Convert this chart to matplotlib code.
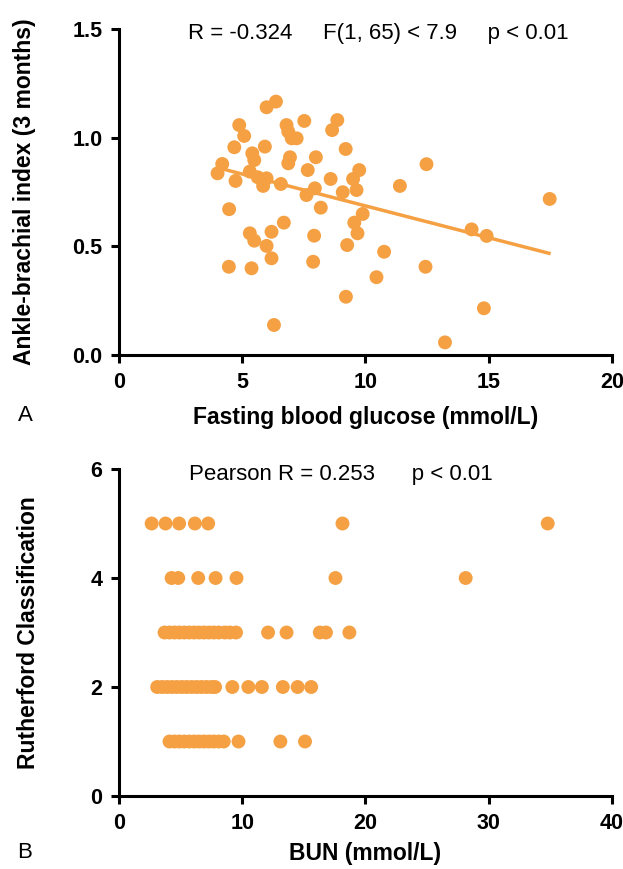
import numpy as np
import matplotlib
matplotlib.use("Agg")
import matplotlib.pyplot as plt

plt.rcParams['font.family'] = ['Liberation Sans', 'DejaVu Sans']

# colour of the dots and fit line
orange = '#F4A043'

# panel A: fasting blood glucose vs ankle-brachial index
glucose = [6.37, 5.99, 4.88, 5.08, 4.68, 5.92, 6.80, 6.87, 7.01, 7.21,
           7.52, 8.86, 8.65, 9.20, 5.41, 5.49, 6.94, 6.87, 7.99, 7.66,
           4.19, 4.00, 4.73, 5.31, 5.63, 5.99, 5.85, 6.57, 7.95, 7.61,
           8.59, 9.08, 9.75, 9.50, 9.64, 8.19, 4.47, 5.31, 5.49, 6.19,
           6.69, 5.99, 6.19, 7.92, 7.88, 9.26, 9.89, 9.55, 9.68, 4.46,
           5.38, 9.21, 6.29, 12.48, 11.40, 10.76, 14.31, 14.92, 17.48, 12.44,
           10.45, 14.81, 13.23]
abi = [1.166, 1.140, 1.058, 1.008, 0.956, 0.959, 1.058, 1.028, 0.997, 0.997,
       1.077, 1.081, 1.035, 0.948, 0.928, 0.897, 0.910, 0.882, 0.910, 0.851,
       0.879, 0.836, 0.801, 0.844, 0.818, 0.813, 0.778, 0.787, 0.767, 0.736,
       0.810, 0.749, 0.851, 0.810, 0.759, 0.678, 0.671, 0.560, 0.526, 0.567,
       0.609, 0.502, 0.445, 0.549, 0.429, 0.506, 0.649, 0.609, 0.560, 0.406,
       0.399, 0.268, 0.138, 0.878, 0.778, 0.475, 0.578, 0.548, 0.718, 0.406,
       0.358, 0.215, 0.058]
fit_x = [4.0, 17.45]
fit_y = [0.862, 0.468]

# panel B: BUN values for each Rutherford class
bun_c1 = [4.1, 4.5, 4.9, 5.3, 5.7, 6.1, 6.5, 6.9, 7.3, 7.7, 8.1, 8.5, 9.7, 13.1, 15.1]
bun_c2 = [3.1, 3.5, 3.9, 4.3, 4.7, 5.1, 5.5, 5.9, 6.3, 6.7, 7.1, 7.5, 7.8,
          9.2, 10.5, 11.6, 13.3, 14.5, 15.6]
bun_c3 = [3.7, 4.1, 4.5, 4.9, 5.3, 5.7, 6.1, 6.5, 6.9, 7.3, 7.7, 8.1, 8.6,
          9.0, 9.5, 12.1, 13.6, 16.3, 16.8, 18.7]
bun_c4 = [4.27, 4.81, 6.43, 7.84, 9.54, 17.57, 28.14]
bun_c5 = [2.65, 3.78, 4.88, 6.16, 7.24, 18.14, 34.8]
bun_groups = [bun_c1, bun_c2, bun_c3, bun_c4, bun_c5]


def style_axes(ax):
    for side in ['top', 'right']:
        ax.spines[side].set_visible(False)
    for side in ['left', 'bottom']:
        ax.spines[side].set_linewidth(2.2)
    ax.tick_params(width=2.2, length=6, labelsize=15.5, pad=6)
    for lab in ax.get_xticklabels() + ax.get_yticklabels():
        lab.set_fontweight('bold')


fig = plt.figure(figsize=(6.23, 8.69), dpi=100)

# ---- panel A ----
ax1 = fig.add_axes([0.191, 0.5915, 0.791, 0.3751])
ax1.scatter(glucose, abi, s=100, color=orange, edgecolors='none', zorder=3)
ax1.plot(fit_x, fit_y, color=orange, lw=2.5, zorder=2)
ax1.set_xlim(0, 20)
ax1.set_ylim(0, 1.5)
ax1.set_xticks([0, 5, 10, 15, 20])
ax1.set_yticks([0.0, 0.5, 1.0, 1.5])
ax1.set_yticklabels(['0.0', '0.5', '1.0', '1.5'])
style_axes(ax1)
ax1.set_xlabel('Fasting blood glucose (mmol/L)', fontsize=16.5, fontweight='bold')
ax1.set_ylabel('Ankle-brachial index (3 months)', fontsize=16.5, fontweight='bold')
ax1.xaxis.set_label_coords(0.5, -0.155)
ax1.yaxis.set_label_coords(-0.168, 0.5)
ax1.text(0.527, 0.985, 'R = -0.324     F(1, 65) < 7.9     p < 0.01',
         transform=ax1.transAxes, ha='center', va='center', fontsize=16)
fig.text(25 / 623, 1 - 415 / 869, 'A', ha='center', va='center', fontsize=16)

# ---- panel B ----
ax2 = fig.add_axes([0.191, 0.0840, 0.791, 0.3763])
for cls, xs in enumerate(bun_groups, start=1):
    ax2.scatter(xs, [cls] * len(xs), s=100, color=orange, edgecolors='none', zorder=3)
ax2.set_xlim(0, 40)
ax2.set_ylim(0, 6)
ax2.set_xticks([0, 10, 20, 30, 40])
ax2.set_yticks([0, 2, 4, 6])
style_axes(ax2)
ax2.set_xlabel('BUN (mmol/L)', fontsize=16.5, fontweight='bold')
ax2.set_ylabel('Rutherford Classification', fontsize=16.5, fontweight='bold')
ax2.xaxis.set_label_coords(0.5, -0.14)
ax2.yaxis.set_label_coords(-0.16, 0.5)
ax2.text(0.45, 0.982, 'Pearson R = 0.253      p < 0.01',
         transform=ax2.transAxes, ha='center', va='center', fontsize=16)
fig.text(25 / 623, 1 - 852 / 869, 'B', ha='center', va='center', fontsize=16)

fig.savefig('out.png', dpi=100, facecolor='white')
